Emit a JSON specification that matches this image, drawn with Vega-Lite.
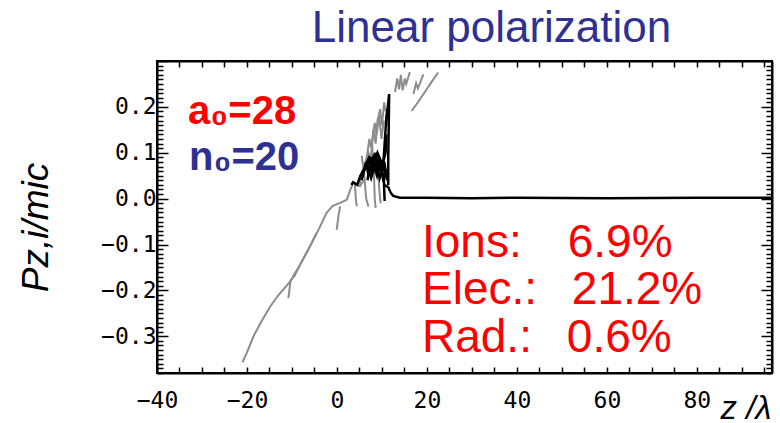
{
  "$schema": "https://vega.github.io/schema/vega-lite/v6.json",
  "width": 615,
  "height": 312,
  "autosize": {"type": "none"},
  "padding": {"left": 157, "top": 61, "right": 8, "bottom": 50},
  "background": "white",
  "title": {"text": "Linear polarization", "font": "Liberation Sans", "fontSize": 44, "fontWeight": "normal", "color": "#2E3192", "anchor": "middle", "frame": "group", "dx": 27, "dy": 55, "baseline": "alphabetic", "offset": 19},
  "config": {
    "view": {"stroke": "black", "strokeWidth": 2},
    "axis": {"grid": false, "domainColor": "black", "domainWidth": 2, "tickColor": "black", "tickWidth": 1.5, "labelColor": "black", "labelFont": "DejaVu Sans Mono", "labelFontSize": 23, "labelOverlap": false, "labelFlush": false, "labelBound": false}
  },
  "datasets": {
    "gray": [
      {"s": "g1", "z": -21.0, "p": -0.357}, {"s": "g1", "z": -20.0, "p": -0.335}, {"s": "g1", "z": -18.6, "p": -0.301}, {"s": "g1", "z": -16.8, "p": -0.268}, {"s": "g1", "z": -14.9, "p": -0.236}, {"s": "g1", "z": -13.0, "p": -0.21}, {"s": "g1", "z": -10.8, "p": -0.185}, {"s": "g1", "z": -9.3, "p": -0.166}, {"s": "g1", "z": -8.0, "p": -0.14}, {"s": "g1", "z": -6.0, "p": -0.104}, {"s": "g1", "z": -4.0, "p": -0.066}, {"s": "g1", "z": -2.3, "p": -0.031}, {"s": "g1", "z": -1.0, "p": -0.016}, {"s": "g1", "z": 0.0, "p": -0.012}, {"s": "g1", "z": 1.0, "p": -0.008}, {"s": "g1", "z": 2.2, "p": -0.002}, {"s": "g1", "z": 3.0, "p": 0.02}, {"s": "g1", "z": 3.6, "p": 0.034}, {"s": "g1", "z": 4.4, "p": 0.03}, {"s": "g1", "z": 5.1, "p": 0.027}, {"s": "g1", "z": 6.0, "p": 0.04},
      {"s": "g2", "z": -9.3, "p": -0.166}, {"s": "g2", "z": -10.3, "p": -0.178}, {"s": "g2", "z": -10.8, "p": -0.217},
      {"s": "g3", "z": -9.8, "p": -0.17}, {"s": "g3", "z": -8.4, "p": -0.148}, {"s": "g3", "z": -6.4, "p": -0.112}, {"s": "g3", "z": -4.5, "p": -0.075},
      {"s": "g4", "z": 0.7, "p": -0.017}, {"s": "g4", "z": 0.3, "p": -0.04}, {"s": "g4", "z": -0.07, "p": -0.068},
      {"s": "g5", "z": 5.0, "p": 0.03}, {"s": "g5", "z": 6.0, "p": 0.07}, {"s": "g5", "z": 7.0, "p": 0.1}, {"s": "g5", "z": 7.5, "p": 0.085}, {"s": "g5", "z": 8.1, "p": 0.151}, {"s": "g5", "z": 8.6, "p": 0.12}, {"s": "g5", "z": 9.0, "p": 0.17}, {"s": "g5", "z": 9.6, "p": 0.195}, {"s": "g5", "z": 10.0, "p": 0.16}, {"s": "g5", "z": 10.5, "p": 0.21}, {"s": "g5", "z": 10.8, "p": 0.19},
      {"s": "g6", "z": 5.5, "p": 0.093}, {"s": "g6", "z": 6.0, "p": 0.06}, {"s": "g6", "z": 6.5, "p": 0.0}, {"s": "g6", "z": 7.0, "p": -0.017},
      {"s": "g7", "z": 7.8, "p": 0.12}, {"s": "g7", "z": 8.2, "p": 0.06}, {"s": "g7", "z": 8.4, "p": 0.0}, {"s": "g7", "z": 8.6, "p": -0.02},
      {"s": "g8", "z": 4.0, "p": 0.03}, {"s": "g8", "z": 4.2, "p": 0.0}, {"s": "g8", "z": 4.4, "p": -0.017},
      {"s": "g12", "z": 6.5, "p": 0.08}, {"s": "g12", "z": 7.2, "p": 0.13}, {"s": "g12", "z": 7.6, "p": 0.11}, {"s": "g12", "z": 8.4, "p": 0.165}, {"s": "g12", "z": 8.8, "p": 0.14}, {"s": "g12", "z": 9.4, "p": 0.18}, {"s": "g12", "z": 9.9, "p": 0.13}, {"s": "g12", "z": 10.4, "p": 0.17},
      {"s": "g13", "z": 9.2, "p": 0.06}, {"s": "g13", "z": 9.4, "p": 0.02}, {"s": "g13", "z": 9.7, "p": -0.01},
      {"s": "g9", "z": 12.9, "p": 0.232}, {"s": "g9", "z": 13.4, "p": 0.262}, {"s": "g9", "z": 13.8, "p": 0.238}, {"s": "g9", "z": 14.2, "p": 0.27}, {"s": "g9", "z": 14.6, "p": 0.236}, {"s": "g9", "z": 15.1, "p": 0.262}, {"s": "g9", "z": 15.4, "p": 0.25}, {"s": "g9", "z": 16.2, "p": 0.276},
      {"s": "g10", "z": 17.0, "p": 0.228}, {"s": "g10", "z": 17.6, "p": 0.252}, {"s": "g10", "z": 18.0, "p": 0.24}, {"s": "g10", "z": 19.2, "p": 0.271},
      {"s": "g11", "z": 16.6, "p": 0.191}, {"s": "g11", "z": 18.0, "p": 0.21}, {"s": "g11", "z": 19.5, "p": 0.232}, {"s": "g11", "z": 21.0, "p": 0.254}, {"s": "g11", "z": 22.5, "p": 0.275}
    ],
    "black": [
      {"s": "b1", "z": 5.5, "p": 0.04}, {"s": "b1", "z": 6.5, "p": 0.08}, {"s": "b1", "z": 7.0, "p": 0.05}, {"s": "b1", "z": 7.5, "p": 0.09}, {"s": "b1", "z": 8.0, "p": 0.06}, {"s": "b1", "z": 8.5, "p": 0.1}, {"s": "b1", "z": 9.0, "p": 0.05}, {"s": "b1", "z": 9.5, "p": 0.09}, {"s": "b1", "z": 10.0, "p": 0.06}, {"s": "b1", "z": 10.5, "p": 0.08}, {"s": "b1", "z": 11.0, "p": 0.05},
      {"s": "b2", "z": 6.0, "p": 0.06}, {"s": "b2", "z": 7.0, "p": 0.085}, {"s": "b2", "z": 7.8, "p": 0.055}, {"s": "b2", "z": 8.8, "p": 0.075}, {"s": "b2", "z": 9.5, "p": 0.045}, {"s": "b2", "z": 10.3, "p": 0.07}, {"s": "b2", "z": 11.2, "p": 0.04},
      {"s": "b3", "z": 10.2, "p": 0.06}, {"s": "b3", "z": 10.6, "p": 0.12}, {"s": "b3", "z": 11.0, "p": 0.18}, {"s": "b3", "z": 11.3, "p": 0.2}, {"s": "b3", "z": 11.6, "p": 0.228}, {"s": "b3", "z": 11.5, "p": 0.15}, {"s": "b3", "z": 11.4, "p": 0.09}, {"s": "b3", "z": 11.4, "p": 0.03},
      {"s": "b4", "z": 3.2, "p": 0.03}, {"s": "b4", "z": 3.6, "p": 0.036}, {"s": "b4", "z": 4.5, "p": 0.03}, {"s": "b4", "z": 5.2, "p": 0.05}, {"s": "b4", "z": 6.3, "p": 0.07}, {"s": "b4", "z": 7.2, "p": 0.09}, {"s": "b4", "z": 8.2, "p": 0.08}, {"s": "b4", "z": 9.0, "p": 0.1}, {"s": "b4", "z": 9.8, "p": 0.08},
      {"s": "b5", "z": 10.5, "p": 0.03}, {"s": "b5", "z": 11.4, "p": 0.025}, {"s": "b5", "z": 12.0, "p": 0.012}, {"s": "b5", "z": 12.5, "p": 0.006}, {"s": "b5", "z": 14.0, "p": 0.002}, {"s": "b5", "z": 20, "p": 0.002}, {"s": "b5", "z": 30, "p": 0.001}, {"s": "b5", "z": 40, "p": 0.002}, {"s": "b5", "z": 60, "p": 0.001}, {"s": "b5", "z": 80, "p": 0.002}, {"s": "b5", "z": 96.7, "p": 0.002},
      {"s": "b6", "z": 10.4, "p": 0.05}, {"s": "b6", "z": 10.5, "p": 0.02}, {"s": "b6", "z": 10.6, "p": -0.005},
      {"s": "b7", "z": 6.8, "p": 0.04}, {"s": "b7", "z": 7.3, "p": 0.075}, {"s": "b7", "z": 8.0, "p": 0.09}, {"s": "b7", "z": 8.6, "p": 0.065}, {"s": "b7", "z": 9.2, "p": 0.095}, {"s": "b7", "z": 10.0, "p": 0.07}, {"s": "b7", "z": 10.8, "p": 0.1}, {"s": "b7", "z": 11.0, "p": 0.14},
      {"s": "b8", "z": 7.0, "p": 0.065}, {"s": "b8", "z": 7.6, "p": 0.045}, {"s": "b8", "z": 8.3, "p": 0.07}, {"s": "b8", "z": 8.9, "p": 0.05}, {"s": "b8", "z": 9.6, "p": 0.075}, {"s": "b8", "z": 10.2, "p": 0.045}, {"s": "b8", "z": 10.9, "p": 0.065},
      {"s": "b9", "z": 7.5, "p": 0.07}, {"s": "b9", "z": 8.0, "p": 0.075}, {"s": "b9", "z": 8.6, "p": 0.085}, {"s": "b9", "z": 9.2, "p": 0.065}, {"s": "b9", "z": 9.8, "p": 0.06}
    ],
    "notes": [
      {"kind": "a0", "t": "a₀=28", "z": -33.1, "p": 0.162},
      {"kind": "n0", "t": "n₀=20", "z": -32.9, "p": 0.063},
      {"kind": "lab", "t": "Ions:", "z": 18.9, "p": -0.127},
      {"kind": "lab", "t": "Elec.:", "z": 18.9, "p": -0.230},
      {"kind": "lab", "t": "Rad.:", "z": 18.9, "p": -0.335},
      {"kind": "val", "t": "6.9%", "z": 51.3, "p": -0.127},
      {"kind": "val", "t": "21.2%", "z": 52.2, "p": -0.230},
      {"kind": "val", "t": "0.6%", "z": 51.1, "p": -0.335}
    ]
  },
  "resolve": {"axis": {"x": "independent", "y": "independent"}},
  "layer": [
    {
      "data": {"name": "gray"},
      "mark": {"type": "line", "color": "#8c8c8c", "strokeWidth": 2},
      "encoding": {
        "x": {"field": "z", "type": "quantitative", "scale": {"domain": [-40, 96.7], "nice": false, "zero": false},
          "axis": {"orient": "bottom", "values": [-40,-35,-30,-25,-20,-15,-10,-5,0,5,10,15,20,25,30,35,40,45,50,55,60,65,70,75,80,85,90,95],
            "labelExpr": "datum.value % 20 === 0 ? datum.label : ''", "tickSize": -6, "labelPadding": 22,
            "title": "z /λ", "titleFont": "Liberation Sans", "titleFontStyle": "italic", "titleFontWeight": "normal", "titleFontSize": 33, "titleColor": "black",
            "titleX": 563, "titleY": 45, "titleAlign": "left", "titleAnchor": "start", "titleBaseline": "alphabetic"}},
        "y": {"field": "p", "type": "quantitative", "scale": {"domain": [-0.38, 0.3], "nice": false, "zero": false},
          "axis": {"orient": "left", "format": ".1f",
            "values": [-0.38,-0.37,-0.36,-0.35,-0.34,-0.33,-0.32,-0.31,-0.3,-0.29,-0.28,-0.27,-0.26,-0.25,-0.24,-0.23,-0.22,-0.21,-0.2,-0.19,-0.18,-0.17,-0.16,-0.15,-0.14,-0.13,-0.12,-0.11,-0.1,-0.09,-0.08,-0.07,-0.06,-0.05,-0.04,-0.03,-0.02,-0.01,0,0.01,0.02,0.03,0.04,0.05,0.06,0.07,0.08,0.09,0.1,0.11,0.12,0.13,0.14,0.15,0.16,0.17,0.18,0.19,0.2,0.21,0.22,0.23,0.24,0.25,0.26,0.27,0.28,0.29,0.3],
            "labelExpr": "abs(datum.value*10 - round(datum.value*10)) < 0.001 && datum.value < 0.25 ? datum.label : ''",
            "tickSize": {"condition": {"test": "abs(datum.value*10 - round(datum.value*10)) < 0.001", "value": -11}, "value": -6},
            "labelPadding": 12,
            "title": "Pz,i/mic", "titleFont": "Liberation Sans", "titleFontStyle": "italic", "titleFontWeight": "normal", "titleFontSize": 37, "titleColor": "black",
            "titleAngle": 270, "titleX": -110, "titleY": 166, "titleAlign": "center", "titleBaseline": "alphabetic"}},
        "detail": {"field": "s"},
        "order": {"value": null}
      }
    },
    {
      "data": {"name": "black"},
      "mark": {"type": "line", "color": "black", "strokeWidth": 2.5},
      "encoding": {
        "x": {"field": "z", "type": "quantitative", "scale": {"domain": [-40, 96.7], "nice": false, "zero": false},
          "axis": {"orient": "top", "values": [-40,-35,-30,-25,-20,-15,-10,-5,0,5,10,15,20,25,30,35,40,45,50,55,60,65,70,75,80,85,90,95], "labels": false, "tickSize": -6, "title": null}},
        "y": {"field": "p", "type": "quantitative", "scale": {"domain": [-0.38, 0.3], "nice": false, "zero": false},
          "axis": {"orient": "right", "labels": false, "title": null,
            "values": [-0.38,-0.37,-0.36,-0.35,-0.34,-0.33,-0.32,-0.31,-0.3,-0.29,-0.28,-0.27,-0.26,-0.25,-0.24,-0.23,-0.22,-0.21,-0.2,-0.19,-0.18,-0.17,-0.16,-0.15,-0.14,-0.13,-0.12,-0.11,-0.1,-0.09,-0.08,-0.07,-0.06,-0.05,-0.04,-0.03,-0.02,-0.01,0,0.01,0.02,0.03,0.04,0.05,0.06,0.07,0.08,0.09,0.1,0.11,0.12,0.13,0.14,0.15,0.16,0.17,0.18,0.19,0.2,0.21,0.22,0.23,0.24,0.25,0.26,0.27,0.28,0.29,0.3],
            "tickSize": {"condition": {"test": "abs(datum.value*10 - round(datum.value*10)) < 0.001", "value": -11}, "value": -6}}},
        "detail": {"field": "s"},
        "order": {"value": null}
      }
    },
    {
      "data": {"name": "notes"},
      "transform": [{"filter": "datum.kind === 'a0'"}],
      "mark": {"type": "text", "font": "Liberation Sans", "fontWeight": "bold", "fontSize": 40, "color": "#FF0000", "align": "left", "baseline": "alphabetic"},
      "encoding": {
        "x": {"field": "z", "type": "quantitative", "axis": null},
        "y": {"field": "p", "type": "quantitative", "axis": null},
        "text": {"field": "t"}
      }
    },
    {
      "data": {"name": "notes"},
      "transform": [{"filter": "datum.kind === 'n0'"}],
      "mark": {"type": "text", "font": "Liberation Sans", "fontWeight": "bold", "fontSize": 40, "color": "#2E3192", "align": "left", "baseline": "alphabetic"},
      "encoding": {
        "x": {"field": "z", "type": "quantitative", "axis": null},
        "y": {"field": "p", "type": "quantitative", "axis": null},
        "text": {"field": "t"}
      }
    },
    {
      "data": {"name": "notes"},
      "transform": [{"filter": "datum.kind === 'lab' || datum.kind === 'val'"}],
      "mark": {"type": "text", "font": "Liberation Sans", "fontWeight": "normal", "fontSize": 46, "color": "#FF0000", "align": "left", "baseline": "alphabetic"},
      "encoding": {
        "x": {"field": "z", "type": "quantitative", "axis": null},
        "y": {"field": "p", "type": "quantitative", "axis": null},
        "text": {"field": "t"}
      }
    }
  ]
}
